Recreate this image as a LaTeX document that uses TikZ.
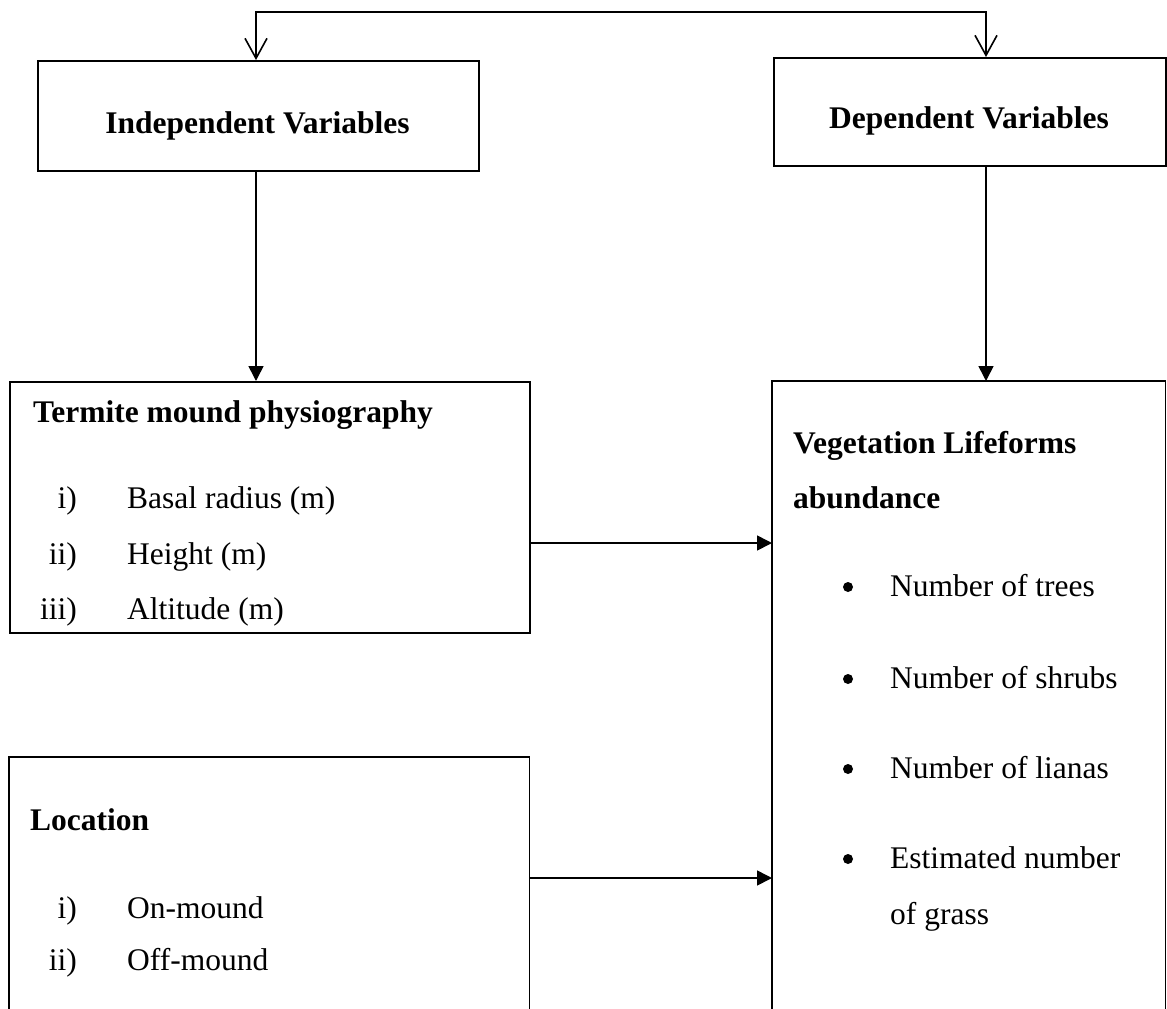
\documentclass[tikz,border=0pt]{standalone}
\usepackage{fontspec}
\setmainfont{Liberation Serif}
\usetikzlibrary{arrows.meta}
\begin{document}
\begin{tikzpicture}[x=1pt,y=-1pt,
  box/.style={draw, line width=1.6pt, anchor=north west, inner sep=0pt},
  openbox/.style={draw=none, anchor=north west, inner sep=0pt},
  side/.style={line width=1.6pt},
  txt/.style={anchor=base west, inner sep=0pt, font=\fontsize{31.5}{38}\selectfont},
  btxt/.style={anchor=base west, inner sep=0pt, font=\fontsize{31.5}{38}\selectfont\bfseries},
  ctxt/.style={anchor=base, inner sep=0pt, font=\fontsize{31.5}{38}\selectfont\bfseries},
  num/.style={anchor=base east, inner sep=0pt, font=\fontsize{31.5}{38}\selectfont},
  solidarrow/.style={line width=1.6pt, -{Triangle[length=15pt,width=15pt]}},
  barbarrow/.style={line width=1.6pt, {Straight Barb[length=20pt,width=22pt,line width=1.6pt]}-{Straight Barb[length=20pt,width=22pt,line width=1.6pt]}},
  dot/.style={circle, fill, inner sep=0pt, minimum size=10pt}]
\useasboundingbox (0,0) rectangle (1167,1009);
\fill[white] (0,0) rectangle (1167,1009);

% boxes
\node[box, minimum width=441pt, minimum height=110pt] (indep) at (37,60) {};
\node[box, minimum width=392pt, minimum height=108pt] (dep) at (773,57) {};
\node[box, minimum width=520pt, minimum height=251pt] (term) at (9,381) {};
\node[openbox, minimum width=393pt, minimum height=640pt] (veg) at (772,381) {};
\node[openbox, minimum width=520pt, minimum height=264pt] (loc) at (9,757) {};
\draw[side] (veg.south west) -- (veg.north west) -- (veg.north east) -- (veg.south east);
\draw[side] (loc.south west) -- (loc.north west) -- (loc.north east) -- (loc.south east);

% guide coordinates
\coordinate (a1) at (256,12);
\coordinate (a2) at (986,12);
\coordinate (r1) at (0,543);
\coordinate (r2) at (0,878);

% connectors
\draw[barbarrow] (indep.north -| a1) -- (a1) -- (a2) -- (dep.north -| a2);
\draw[solidarrow] (indep.south -| a1) -- (term.north -| a1);
\draw[solidarrow] (dep.south -| a2) -- (veg.north -| a2);
\draw[solidarrow] (term.east |- r1) -- (veg.west |- r1);
\draw[solidarrow] (loc.east |- r2) -- (veg.west |- r2);

% top titles
\node[ctxt] (tindep) at (257.5,133) {Independent Variables};
\node[ctxt] (tdep) at (969,128) {Dependent Variables};

% termite box
\node[btxt] (tterm) at (33,422) {Termite mound physiography};
\node[num] (n1) at (77,508) {i)};
\node[txt] (l1) at (127,508) {Basal radius (m)};
\node[num] (n2) at (77,564) {ii)};
\node[txt] (l2) at (127,564) {Height (m)};
\begin{scope}
\clip (9,590) rectangle (529,625);
\node[num] (n3) at (77,619) {iii)};
\node[txt] (l3) at (127,619) {Altitude (m)};
\end{scope}

% location box
\node[btxt] (tloc) at (30,830) {Location};
\node[num] (m1) at (77,918) {i)};
\node[txt] (k1) at (127,918) {On-mound};
\node[num] (m2) at (77,970) {ii)};
\node[txt] (k2) at (127,970) {Off-mound};

% vegetation box
\node[btxt] (tveg1) at (793,453) {Vegetation Lifeforms};
\node[btxt] (tveg2) at (793,508) {abundance};
\node[dot] (d1) at (848,587) {};
\node[txt] (v1) at (890,596) {Number of trees};
\node[dot] (d2) at (848,679) {};
\node[txt] (v2) at (890,688) {Number of shrubs};
\node[dot] (d3) at (848,769) {};
\node[txt] (v3) at (890,778) {Number of lianas};
\node[dot] (d4) at (848,859) {};
\node[txt] (v4) at (890,868) {Estimated number};
\node[txt] (v5) at (890,924) {of grass};
\end{tikzpicture}
\end{document}
